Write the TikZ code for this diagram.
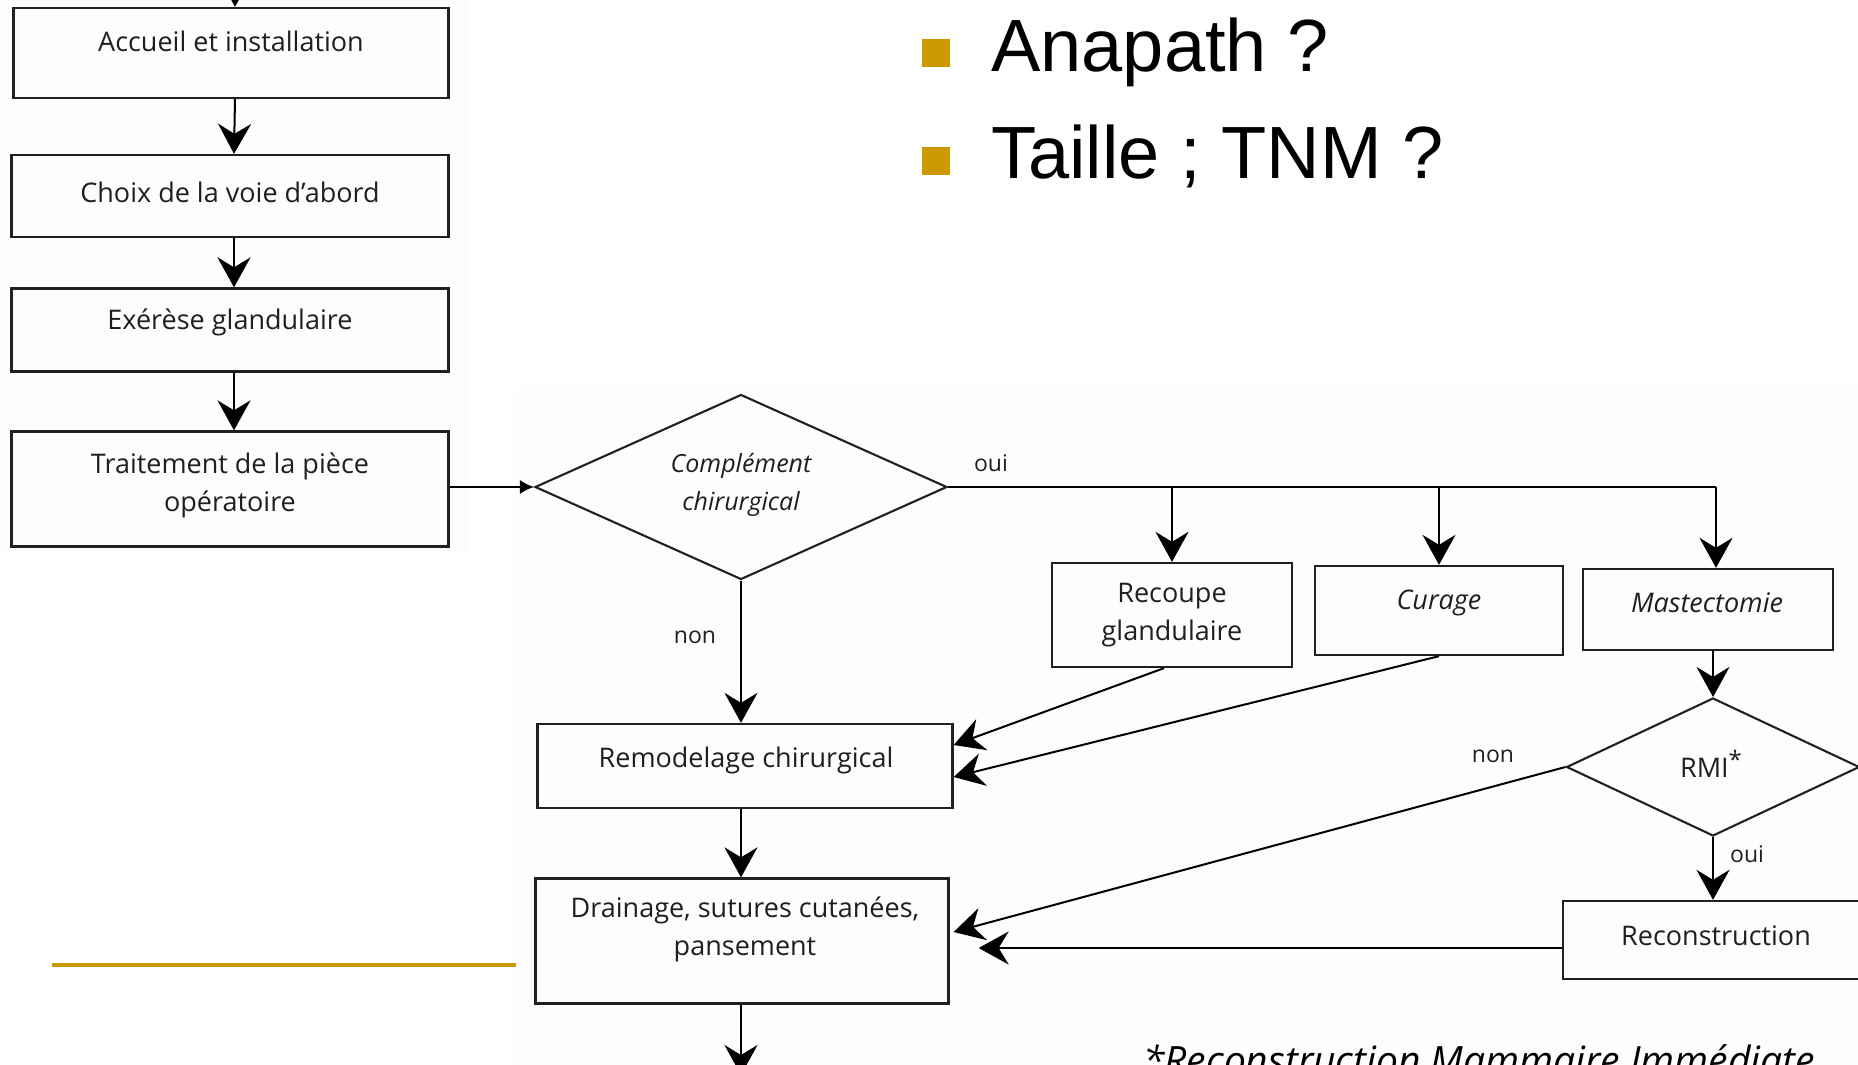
\documentclass[tikz,border=0pt]{standalone}
\usepackage{fontspec}
\setmainfont{Open Sans}
\newfontfamily\arialfont{Liberation Sans}
\usetikzlibrary{shapes.geometric,arrows.meta}
\definecolor{gold}{HTML}{CC9900}
\definecolor{boxline}{HTML}{202020}
\definecolor{paper}{HTML}{FDFDFD}
\begin{document}
\begin{tikzpicture}[x=1pt,y=-1pt,
  box/.style={draw=boxline, line width=2.3pt, rectangle, inner sep=0pt},
  dia/.style={draw=boxline, line width=2.1pt, diamond, inner sep=0pt},
  txt/.style={font=\fontsize{27}{38}\selectfont, align=center, text=black!88, inner sep=0pt},
  itxt/.style={txt, font=\fontsize{27}{38}\selectfont\itshape},
  lbl/.style={font=\fontsize{23}{28}\selectfont, text=black!88, inner sep=0pt},
  arr/.style={line width=2pt, draw=black, -{Stealth[length=30pt,width=33pt,inset=10pt]}},
  ln/.style={line width=2pt, draw=black},
  bullet/.style={fill=gold, minimum size=28pt, inner sep=0pt},
  slide/.style={font=\arialfont\fontsize{74}{80}\selectfont, inner sep=0pt, anchor=base west},
]
\useasboundingbox (0,0) rectangle (1858,1065);
\clip (0,0) rectangle (1858,1065);
\fill[paper] (0,0) rectangle (468,552);
\fill[paper] (515,388) rectangle (1858,1065);

% left column
\node[box, minimum width=435pt, minimum height=90pt] (b1) at (231,53) {};
\node[txt] (b1t) at (231,41) {Accueil et installation};
\node[box, minimum width=437pt, minimum height=82pt] (b2) at (230,196) {};
\node[txt] (b2t) at (230,192) {Choix de la voie d'abord};
\node[box, minimum width=437pt, minimum height=83pt] (b3) at (230,330) {};
\node[txt] (b3t) at (230,322) {Exérèse glandulaire};
\node[box, minimum width=437pt, minimum height=115pt] (b4) at (230,489) {};
\node[txt] (b4t) at (230,485) {Traitement de la pièce\\opératoire};

\coordinate (topin) at (235,-30);
\draw[arr] (topin) -- ([xshift=4pt]b1.north);
\draw[arr] ([xshift=4pt]b1.south) -- ([xshift=4pt]b2.north);
\draw[arr] ([xshift=4pt]b2.south) -- ([xshift=4pt]b3.north);
\draw[arr] ([xshift=4pt]b3.south) -- ([xshift=4pt]b4.north);

% decision 1
\node[dia, minimum width=412pt, minimum height=185pt] (d1) at (741,487) {};
\node[txt, font=\fontsize{25}{38}\selectfont\itshape] (d1t) at (741,485) {Complément\\chirurgical};
\draw[ln, -{Latex[length=14pt,width=14pt]}] (b4.east |- d1.west) -- (d1.west);

\node[lbl] (oui1) at (991,463) {oui};
\node[lbl] (non1) at (695,637) {non};

\coordinate (j1) at (1172,487);
\coordinate (j2) at (1439,487);
\coordinate (j3) at (1716,487);
\draw[ln] (d1.east) -- (j3);

\node[box, minimum width=240pt, minimum height=104pt] (rec) at (1172,615) {};
\node[txt] (rect) at (1172,615) {Recoupe\\glandulaire};
\node[box, minimum width=248pt, minimum height=89pt] (cur) at (1439,610.5) {};
\node[itxt] (curt) at (1439,603) {Curage};
\node[box, minimum width=250pt, minimum height=81pt] (mas) at (1708,609.5) {};
\node[itxt] (mast) at (1707,603) {Mastectomie};

\draw[arr] (j1) -- (rec.north);
\draw[arr] (j2) -- (cur.north);
\draw[arr] (j3) -- (j3 |- mas.north);

% RMI
\node[dia, minimum width=293pt, minimum height=138pt] (rmi) at (1713,767) {};
\node[txt] (rmit) at (1711,764) {RMI\raisebox{9pt}{\fontsize{24}{24}\selectfont *}};
\draw[arr] (mas.south -| rmi.north) -- (rmi.north);
\node[lbl] (non2) at (1493,756) {non};
\node[lbl] (oui2) at (1747,854) {oui};

\node[box, minimum width=306pt, minimum height=78pt] (recon) at (1716,940) {};
\node[txt] (recont) at (1716,936) {Reconstruction};
\draw[arr] (rmi.south) -- (rmi.south |- recon.north);

% centre column
\node[box, minimum width=415pt, minimum height=84pt] (rem) at (745,766) {};
\node[txt] (remt) at (746,760) {Remodelage chirurgical};
\node[box, minimum width=413pt, minimum height=125pt] (dra) at (742,941) {};
\node[txt] (drat) at (745,929) {Drainage, sutures cutanées,\\pansement};

\draw[arr] (d1.south) -- (d1.south |- rem.north);
\draw[arr] (rem.south -| d1.south) -- (dra.north -| d1.south);
\coordinate (out) at (741,1075);
\draw[arr] (dra.south -| out) -- (out);

\draw[arr] ([xshift=-8pt]rec.south) -- ([yshift=21pt]rem.east);
\draw[arr] (cur.south) -- ([yshift=-11pt]rem.east);
\draw[arr] (rmi.west) -- ([xshift=4pt,yshift=9pt]dra.east);
\coordinate (rw) at ([yshift=-8pt]recon.west);
\draw[arr] (rw) -- ([xshift=29pt]rw -| dra.east);

\node[font=\fontsize{39}{42}\selectfont\itshape, inner sep=0pt, anchor=base west, text=black] (foot) at (1143,1074) {*Reconstruction Mammaire Immédiate};

% slide elements
\coordinate (g1) at (52,965);
\coordinate (g2) at (516,965);
\draw[gold, line width=4pt] (g1) -- (g2);
\node[bullet] (bul1) at (936,53) {};
\node[bullet] (bul2) at (936,161) {};
\node[slide] (s1) at (991,71) {Anapath ?};
\node[slide] (s2) at (991,178) {Taille ; TNM ?};
\end{tikzpicture}
\end{document}
